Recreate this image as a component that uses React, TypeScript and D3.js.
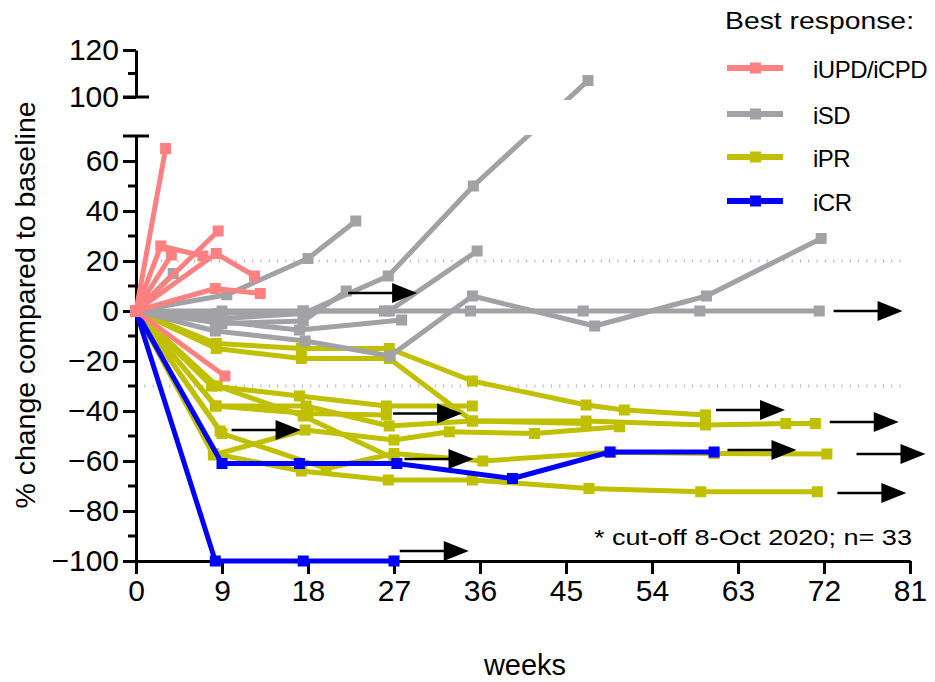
import * as d3 from "d3"
import React, { useEffect, useRef } from "react"

// Axis ticks
const weekTicks = [0, 9, 18, 27, 36, 45, 54, 63, 72, 81]
const lowerTicks = [-100, -80, -60, -40, -20, 0, 20, 40, 60]
const lowerMinor = [-90, -70, -50, -30, -10, 10, 30, 50]
const upperTicks = [100, 120]
const upperMinor = [110]
const refLines = [20, -30]

// Legend
const legendLabels = ["iUPD/iCPD", "iSD", "iPR", "iCR"]
const legendColors = ["#ff8080", "#a1a1a6", "#c0c000", "#0000ff"]

// Patients, [week, % change], grouped by best response
const progressive = [
    [[0, 0], [3.1, 65]],
    [[0, 0], [2.6, 26], [7, 22]],
    [[0, 0], [3.7, 22.4]],
    [[0, 0], [8.6, 32]],
    [[0, 0], [8.4, 23], [12.4, 14]],
    [[0, 0], [8.3, 9], [13, 7]],
    [[0, 0], [9.3, -26]],
]

const stable = [
    [[0, 0], [3.9, 15]],
    [[0, 0], [9.5, 6.5], [18, 21], [23, 36]],
    [[0, 0], [9, -3], [17.5, -1], [26.4, 14], [35.3, 50], [47.3, 107]],
    [[0, 0], [9, -5], [17.5, -4], [22, 8]],
    [[0, 0], [8.5, -1], [17.5, 0], [26.5, 0], [35.7, 24]],
    [[0, 0], [8.3, -8], [17.7, -12], [26.6, -18], [35.2, 6], [48, -6], [59.7, 6], [71.7, 29]],
    [[0, 0], [9, 0], [17.5, 0], [26, 0], [35, 0], [46.8, 0], [59, 0], [71.5, 0]],
    [[0, 0], [8.3, -4], [17.1, -7.6], [27.8, -3.6]],
]

const partial = [
    [[0, 0], [8.4, -13], [17.3, -15], [26.5, -15], [35.2, -28], [47.1, -37.6], [51.1, -39.6], [59.6, -41.6]],
    [[0, 0], [8.4, -15], [17.3, -19], [26.5, -19], [35.2, -44], [47.1, -44], [59.6, -45.6], [68, -45], [71.1, -45]],
    [[0, 0], [8.1, -57.6], [17.7, -47.6], [27, -51.6], [32.8, -48.3], [41.7, -49], [50.6, -46.3]],
    [[0, 0], [7.9, -30], [17.1, -34], [26.2, -38], [35.2, -38]],
    [[0, 0], [8.3, -38], [18, -41], [26.2, -41.6]],
    [[0, 0], [8.8, -48]],
    [[0, 0], [8.1, -57], [17.3, -64], [26.4, -67.6], [35.2, -67.6], [47.4, -71], [59.1, -72.3], [71.3, -72.3]],
    [[0, 0], [9, -49], [19.9, -63], [27, -57], [36.3, -60], [49.7, -56.5], [60.5, -57], [72.3, -57.2]],
    [[0, 0], [8.5, -30], [17.5, -42], [27, -59]],
    [[0, 0], [8.4, -38], [17.8, -38], [26.5, -46], [35.2, -44], [47.1, -45]],
]

const complete = [
    [[0, 0], [9, -61], [17.1, -61], [27.3, -61], [39.4, -67], [49.6, -56.4], [60.5, -56.4]],
    [[0, 0], [8.3, -100], [17.5, -100], [27, -100]],
]

// Ongoing treatment arrows, [start week, % change]
const ongoing = [
    [22.2, 7.2], [73, 0], [10, -47.6], [26.9, -41], [28.1, -59.2], [60.7, -39.6],
    [72.6, -44.4], [61.9, -55.6], [75.4, -57.2], [73.4, -72.8], [27.6, -96],
]

const FONT = "'Liberation Sans', Arial, sans-serif"

const App = () => {
    const refSvg = useRef<SVGSVGElement>(null)

    useEffect(() => {
        const svg = d3.select(refSvg.current)
        svg.selectAll("*").remove()

        const x = d3.scaleLinear().domain([0, 81]).range([136, 910])
        const yLow = d3.scaleLinear().domain([-100, 70]).range([561, 136])
        const yHigh = d3.scaleLinear().domain([100, 120]).range([97, 50])
        const y = (v: number) => (v >= 100 ? yHigh(v) : yLow(v))

        // Blank out the axis break for the lines
        const clip = svg.append("defs").append("clipPath").attr("id", "gap-clip")
        clip.append("rect").attr("x", 0).attr("y", 0).attr("width", 935).attr("height", 100)
        clip.append("rect").attr("x", 0).attr("y", 135).attr("width", 935).attr("height", 547)

        // Dotted reference lines
        svg.append("g").selectAll("line").data(refLines).join("line")
            .attr("x1", x(0)).attr("x2", x(80.7))
            .attr("y1", d => yLow(d)).attr("y2", d => yLow(d))
            .attr("stroke", "#b4b4b4").attr("stroke-width", 3)
            .attr("stroke-dasharray", "1,7.3")

        const styleAxis = (g: any) => {
            g.attr("font-family", FONT).attr("font-size", 30)
            g.selectAll("line").attr("stroke", "#000").attr("stroke-width", 3)
            g.selectAll("path").attr("stroke", "#000").attr("stroke-width", 3)
            g.selectAll("text").attr("fill", "#000")
        }

        // x axis
        svg.append("g")
            .attr("transform", `translate(0, ${yLow(-100)})`)
            .call(d3.axisBottom(x).tickValues(weekTicks).tickSize(13).tickSizeOuter(0).tickPadding(6))
            .call(styleAxis)

        // lower y axis
        const gLow = svg.append("g")
            .attr("transform", `translate(${x(0)}, 0)`)
            .call(d3.axisLeft(yLow).tickValues(lowerTicks).tickSize(13).tickSizeOuter(0).tickPadding(4))
            .call(styleAxis)
        gLow.selectAll(".minor").data(lowerMinor).join("line").attr("class", "minor")
            .attr("x1", -8).attr("x2", 0).attr("y1", d => yLow(d)).attr("y2", d => yLow(d))
            .attr("stroke", "#000").attr("stroke-width", 3)
        gLow.append("line").attr("x1", -13).attr("x2", 13)
            .attr("y1", yLow(70)).attr("y2", yLow(70))
            .attr("stroke", "#000").attr("stroke-width", 3)

        // upper y axis
        const gHigh = svg.append("g")
            .attr("transform", `translate(${x(0)}, 0)`)
            .call(d3.axisLeft(yHigh).tickValues(upperTicks).tickSize(13).tickSizeOuter(0).tickPadding(4))
            .call(styleAxis)
        gHigh.selectAll(".minor").data(upperMinor).join("line").attr("class", "minor")
            .attr("x1", -8).attr("x2", 0).attr("y1", d => yHigh(d)).attr("y2", d => yHigh(d))
            .attr("stroke", "#000").attr("stroke-width", 3)
        gHigh.append("line").attr("x1", -13).attr("x2", 13)
            .attr("y1", yHigh(100)).attr("y2", yHigh(100))
            .attr("stroke", "#000").attr("stroke-width", 3)

        // Patient lines and markers
        const line = d3.line<number[]>().x(d => x(d[0])).y(d => y(d[1]))
        const drawGroup = (series: number[][][], color: string) => {
            const g = svg.append("g")
            g.append("g").attr("clip-path", "url(#gap-clip)")
                .selectAll("path").data(series).join("path")
                .attr("d", d => line(d))
                .attr("fill", "none").attr("stroke", color)
                .attr("stroke-width", 5).attr("stroke-linejoin", "round")
            g.append("g").selectAll("rect").data(series.flat()).join("rect")
                .attr("x", d => x(d[0]) - 5.5).attr("y", d => y(d[1]) - 5.5)
                .attr("width", 11).attr("height", 11).attr("fill", color)
        }
        drawGroup(partial, legendColors[2])
        drawGroup(stable, legendColors[1])
        drawGroup(complete, legendColors[3])
        drawGroup(progressive, legendColors[0])

        // Ongoing arrows
        const gArrows = svg.append("g").selectAll("g").data(ongoing).join("g")
            .attr("transform", d => `translate(${x(d[0])}, ${y(d[1])})`)
        gArrows.append("line").attr("x1", 0).attr("x2", 46).attr("y1", 0).attr("y2", 0)
            .attr("stroke", "#000").attr("stroke-width", 2.5)
        gArrows.append("path").attr("d", "M44,-10L69,0L44,10Z").attr("fill", "#000")

        // Legend
        const gLegend = svg.append("g").attr("font-family", FONT)
        gLegend.append("text").attr("x", 725).attr("y", 29)
            .attr("font-size", 23).attr("textLength", 189).attr("lengthAdjust", "spacingAndGlyphs")
            .text("Best response:")
        const items = gLegend.selectAll(".item").data(legendLabels).join("g").attr("class", "item")
            .attr("transform", (d, i) => `translate(0, ${[68, 114, 157, 201][i]})`)
        items.append("line").attr("x1", 727).attr("x2", 783)
            .attr("stroke", (d, i) => legendColors[i]).attr("stroke-width", 6)
        items.append("rect").attr("x", 750).attr("y", -5.5).attr("width", 11).attr("height", 11)
            .attr("fill", (d, i) => legendColors[i])
        items.append("text").attr("x", 813).attr("y", 10)
            .attr("font-size", 24).attr("letter-spacing", "-0.5px")
            .text(d => d)

        // Footnote and axis titles
        svg.append("text").attr("x", 594).attr("y", 545)
            .attr("font-family", FONT).attr("font-size", 22)
            .attr("textLength", 318).attr("lengthAdjust", "spacingAndGlyphs")
            .text("* cut-off 8-Oct 2020; n= 33")
        svg.append("text").attr("x", 525).attr("y", 675)
            .attr("text-anchor", "middle").attr("font-family", FONT).attr("font-size", 29)
            .text("weeks")
        svg.append("text").attr("transform", "translate(35, 305) rotate(-90)")
            .attr("text-anchor", "middle").attr("font-family", FONT).attr("font-size", 28.5)
            .text("% change compared to baseline")
    }, [])

    return (
        <svg ref={refSvg} width={935} height={682}
            style={{ position: "absolute", left: 0, top: 0, background: "#fff" }}></svg>
    )
}

export default App
